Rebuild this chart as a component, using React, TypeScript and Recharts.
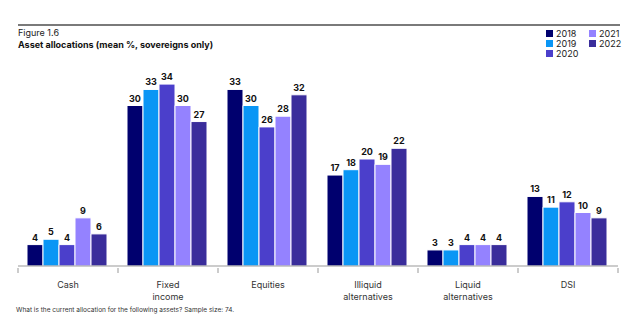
import React from 'react';
import { BarChart, Bar, XAxis, YAxis, LabelList } from 'recharts';

const categories = ['Cash', 'Fixed\nincome', 'Equities', 'Illiquid\nalternatives', 'Liquid\nalternatives', 'DSI'];
const years = ['2018', '2019', '2020', '2021', '2022'];
const v2018 = [4, 30, 33, 17, 3, 13];
const v2019 = [5, 33, 30, 18, 3, 11];
const v2020 = [4, 34, 26, 20, 4, 12];
const v2021 = [9, 30, 28, 19, 4, 10];
const v2022 = [6, 27, 32, 22, 4, 9];

const COLORS: Record<string, string> = {
  '2018': '#00006e',
  '2019': '#0a96f5',
  '2020': '#4b3fcb',
  '2021': '#9482ff',
  '2022': '#3a2d9b',
};

const data = categories.map((c, i) => ({
  name: c,
  '2018': v2018[i],
  '2019': v2019[i],
  '2020': v2020[i],
  '2021': v2021[i],
  '2022': v2022[i],
}));

const FONT = 'Inter, "Noto Sans", sans-serif';
const BAND = 100;

// ticks sit on the category boundaries, not the centres
function CatTick({ x, y, payload, index }: any) {
  const lines = String(payload.value).split('\n');
  const top = y - 8;
  return (
    <g>
      <line x1={x - BAND / 2} x2={x - BAND / 2} y1={top} y2={top + 5} stroke="#999" />
      {index === categories.length - 1 && (
        <line x1={x + BAND / 2} x2={x + BAND / 2} y1={top} y2={top + 5} stroke="#999" />
      )}
      <text x={x} y={y + 12} textAnchor="middle" fontSize={9} fill="#333" fontFamily={FONT}>
        {lines.map((l, i) => (
          <tspan key={i} x={x} dy={i === 0 ? 0 : 12}>{l}</tspan>
        ))}
      </text>
    </g>
  );
}

const legendPos = [
  { y: '2018', left: 546, top: 28 },
  { y: '2019', left: 546, top: 38 },
  { y: '2020', left: 546, top: 48 },
  { y: '2021', left: 589, top: 28 },
  { y: '2022', left: 589, top: 38 },
];

export default function App() {
  return (
    <div style={{ position: 'absolute', left: 0, top: 0, width: 624, height: 330, background: '#fff', fontFamily: FONT }}>
      <div style={{ position: 'absolute', left: 18, top: 24, width: 602, height: 2, background: '#7a7a7a' }} />
      <div style={{ position: 'absolute', left: 18, top: 27, fontSize: 9, color: '#222' }}>Figure 1.6</div>
      <div style={{ position: 'absolute', left: 18, top: 39, fontSize: 9, fontWeight: 700, color: '#111' }}>
        Asset allocations (mean %, sovereigns only)
      </div>
      {legendPos.map((l) => (
        <div key={l.y} style={{ position: 'absolute', left: l.left, top: l.top, display: 'flex', alignItems: 'center', fontSize: 9, color: '#222' }}>
          <span style={{ display: 'inline-block', width: 7, height: 7, background: COLORS[l.y], marginRight: 3 }} />
          {l.y}
        </div>
      ))}
      <div style={{ position: 'absolute', left: 0, top: 0 }}>
        <BarChart
          width={624}
          height={330}
          data={data}
          margin={{ top: 52, right: 6, left: 18, bottom: 0 }}
          barCategoryGap="9%"
          barGap={0}
        >
          <XAxis
            dataKey="name"
            interval={0}
            height={64}
            tick={<CatTick />}
            tickLine={false}
            axisLine={{ stroke: '#999' }}
            tickSize={8}
          />
          <YAxis hide domain={[0, 40]} />
          {years.map((yr) => (
            <Bar key={yr} dataKey={yr} fill={COLORS[yr]} stroke="#fff" strokeWidth={1} isAnimationActive={false}>
              <LabelList dataKey={yr} position="top" offset={4} fontSize={9} fontWeight={700} fill="#111" fontFamily={FONT} />
            </Bar>
          ))}
        </BarChart>
      </div>
      <div style={{ position: 'absolute', left: 16, top: 306, fontSize: 6.5, color: '#333' }}>
        What is the current allocation for the following assets? Sample size: 74.
      </div>
    </div>
  );
}
